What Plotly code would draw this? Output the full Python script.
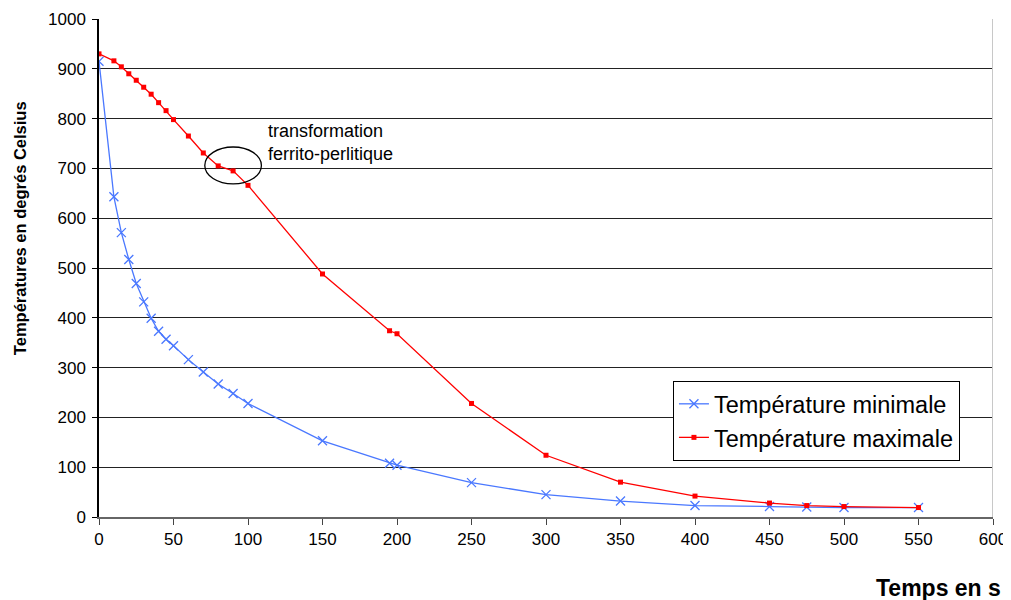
import plotly.graph_objects as go

# Data
t_min = [0, 10, 15, 20, 25, 30, 35, 40, 45, 50, 60, 70, 80, 90, 100, 150, 195, 200, 250, 300, 350, 400, 450, 475, 500, 550]
temp_min = [915, 643, 571, 517, 469, 432, 399, 373, 357, 344, 316, 291, 267, 248, 228, 153, 108, 104, 69, 45, 32, 23, 21, 20, 19, 19]

t_max = [0, 10, 15, 20, 25, 30, 35, 40, 45, 50, 60, 70, 80, 90, 100, 150, 195, 200, 250, 300, 350, 400, 450, 475, 500, 550]
temp_max = [930, 916, 904, 890, 877, 863, 849, 832, 816, 798, 765, 731, 705, 695, 666, 488, 374, 368, 228, 124, 70, 42, 28, 23, 21, 19]

y_ticks = [0, 100, 200, 300, 400, 500, 600, 700, 800, 900, 1000]
x_ticks = [0, 50, 100, 150, 200, 250, 300, 350, 400, 450, 500, 550, 600]

FONT = "Liberation Sans, Arial, sans-serif"

fig = go.Figure()
fig.add_trace(go.Scatter(
    x=t_min, y=temp_min, mode="lines+markers", name="Température minimale",
    line=dict(color="#4a78ff", width=1.3),
    marker=dict(symbol="x-thin", size=9, line=dict(color="#4a78ff", width=1.3)),
))
fig.add_trace(go.Scatter(
    x=t_max, y=temp_max, mode="lines+markers", name="Température maximale",
    line=dict(color="#ff0000", width=1.3),
    marker=dict(symbol="square", size=5, color="#ff0000"),
))

fig.update_layout(
    width=1003, height=592,
    margin=dict(l=91, r=18, t=11, b=83),
    paper_bgcolor="white", plot_bgcolor="white",
    font=dict(family=FONT, color="black", size=17),
    showlegend=True,
    legend=dict(
        x=0.642, y=0.273, xanchor="left", yanchor="top",
        bgcolor="white", bordercolor="black", borderwidth=1,
        font=dict(size=23.5, family=FONT), tracegroupgap=0, itemwidth=30,
    ),
    xaxis=dict(
        range=[0, 600], tickvals=x_ticks, ticks="outside", ticklen=6,
        tickcolor="#444", showgrid=False, zeroline=False, automargin=False,
        showline=True, linecolor="#666", linewidth=2,
        tickfont=dict(size=17),
    ),
    yaxis=dict(
        range=[0, 1000], tickvals=y_ticks, ticks="outside", ticklen=5,
        tickcolor="black", showgrid=True, gridcolor="#222", gridwidth=1,
        zeroline=False, showline=True, linecolor="black", linewidth=1.5,
        automargin=False, tickfont=dict(size=17), ticklabelstandoff=3,
    ),
    shapes=[
        dict(type="line", xref="x", yref="y", x0=600, x1=600, y0=0, y1=1000,
             line=dict(color="#c8c8c8", width=2)),
        dict(type="circle", xref="x", yref="y", x0=71, x1=109, y0=669, y1=743,
             line=dict(color="black", width=1.3)),
    ],
    annotations=[
        dict(text="transformation<br>ferrito-perlitique", xref="x", yref="y",
             x=112, y=752, xanchor="left", yanchor="middle", align="left",
             showarrow=False, font=dict(size=18, family=FONT)),
        dict(text="<b>Températures en degrés Celsius</b>", xref="paper", yref="paper",
             x=-0.0884, y=0.58, xanchor="center", yanchor="middle", textangle=-90,
             showarrow=False, font=dict(size=16.5, family=FONT)),
        dict(text="<b>Temps en s</b>", xref="paper", yref="paper",
             x=0.867, y=-0.143, xanchor="left", yanchor="middle",
             showarrow=False, font=dict(size=23, family=FONT)),
    ],
)

fig.write_html("out.html")
